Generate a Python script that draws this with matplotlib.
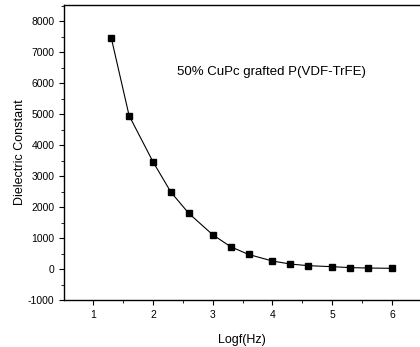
import numpy as np
import matplotlib
matplotlib.use("Agg")
import matplotlib.pyplot as plt
from matplotlib.ticker import MultipleLocator

# data
log_freq = [1.3, 1.6, 2.0, 2.3, 2.6, 3.0, 3.3, 3.6, 4.0, 4.3, 4.6, 5.0, 5.3, 5.6, 6.0]
dielectric = [7470, 4950, 3460, 2480, 1795, 1105, 720, 470, 258, 160, 108, 75, 45, 32, 22]
x_ticks = [1, 2, 3, 4, 5, 6]
y_ticks = [-1000, 0, 1000, 2000, 3000, 4000, 5000, 6000, 7000, 8000]
label_text = "50% CuPc grafted P(VDF-TrFE)"

plt.rcParams['font.family'] = ['Liberation Sans', 'DejaVu Sans']
plt.rcParams['axes.unicode_minus'] = False

fig = plt.figure(figsize=(4.2, 3.47), dpi=100)
ax = fig.add_axes([64 / 420, 47 / 347, 356 / 420, 295 / 347])

ax.plot(log_freq, dielectric, color="black", linewidth=0.8,
        marker="s", markersize=4.5, markerfacecolor="black", markeredgecolor="black")

ax.set_xlim(0.51, 6.47)
ax.set_ylim(-1000, 8520)
ax.set_xticks(x_ticks)
ax.set_yticks(y_ticks)
ax.xaxis.set_minor_locator(MultipleLocator(0.5))
ax.yaxis.set_minor_locator(MultipleLocator(500))
ax.tick_params(which="major", direction="out", length=3.5, width=0.8, labelsize=7.5)
ax.tick_params(which="minor", direction="out", length=2, width=0.6)
ax.spines["right"].set_visible(False)
for s in ["left", "bottom", "top"]:
    ax.spines[s].set_linewidth(1.0)

ax.set_xlabel("Logf(Hz)", fontsize=9, labelpad=10)
ax.set_ylabel("Dielectric Constant", fontsize=9, labelpad=1)
ax.text(2.4, 6350, label_text, fontsize=9.5, va="center", ha="left")

fig.savefig("out.png", dpi=100)
